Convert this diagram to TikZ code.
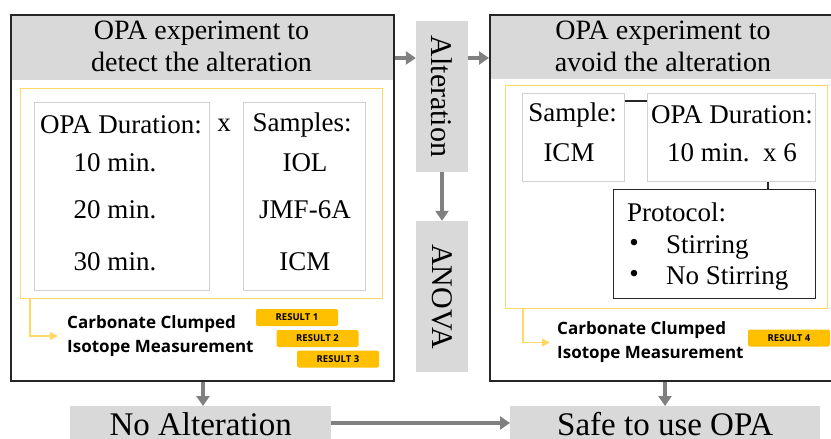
\documentclass[tikz,border=0pt]{standalone}
\usepackage{fontspec}
\usepackage{graphicx}
\setmainfont{Liberation Serif}
\newfontfamily\opensans{Open Sans}
\usetikzlibrary{arrows.meta,positioning}

\definecolor{headgray}{HTML}{D9D9D9}
\definecolor{arrowgray}{HTML}{808080}
\definecolor{lineyellow}{HTML}{FFD966}
\definecolor{resultgold}{HTML}{FFC000}
\definecolor{thingray}{HTML}{D0D0D0}

\tikzset{
  mainbox/.style={draw=black!85, line width=1.5pt, anchor=north west, inner sep=0pt},
  headbar/.style={fill=headgray, anchor=north west, inner sep=0pt},
  yellowbox/.style={draw=lineyellow, line width=1.2pt, anchor=north west, inner sep=0pt},
  listbox/.style={draw=thingray, line width=1pt, anchor=north west, inner sep=0pt},
  protobox/.style={draw=black!85, line width=1pt, anchor=north west, inner sep=0pt},
  sidebar/.style={fill=headgray, inner sep=0pt, minimum width=52pt, minimum height=151pt},
  endbox/.style={fill=headgray, anchor=north west, inner sep=0pt, minimum height=33pt,
    text height=26pt, text depth=0pt, font=\fontsize{33}{36}\selectfont},
  title/.style={align=center, inner sep=0pt, font=\fontsize{28}{32}\selectfont},
  txt/.style={inner sep=0pt, font=\fontsize{27}{32}\selectfont},
  measure/.style={align=left, inner sep=0pt, font=\opensans\bfseries\fontsize{17}{24}\selectfont},
  result/.style={fill=resultgold, rounded corners=2pt, minimum width=82pt, minimum height=17pt,
    inner sep=0pt, font=\opensans\bfseries\fontsize{9.5}{10}\selectfont},
  grayarrow/.style={draw=arrowgray, line width=4pt, -{Triangle[width=13pt,length=10pt]}},
  yellowarrow/.style={draw=lineyellow, line width=1.2pt, -{Triangle[width=8pt,length=8pt]}},
  link/.style={draw=black!85, line width=1.5pt}
}

\begin{document}
\begin{tikzpicture}[x=1pt, y=-1pt]
  \useasboundingbox (0,0) rectangle (831,439);
  \clip (0,0) rectangle (831,439);

  % left experiment
  \node[headbar, minimum width=383pt, minimum height=66pt] (lhead) at (10,14) {};
  \node[mainbox, minimum width=383pt, minimum height=366pt] (left) at (10,14) {};
  \node[title] (ltitle) at (201.5,46) {OPA experiment to\\detect the alteration};
  \node[yellowbox, minimum width=362pt, minimum height=210pt] (lyel) at (20,88) {};
  \node[listbox, minimum width=175pt, minimum height=188pt] (durbox) at (34,102) {};
  \node[listbox, minimum width=122pt, minimum height=188pt] (sampbox) at (243,102) {};
  \node[txt] (durhead) at (121,125) {OPA Duration:};
  \node[txt] (times) at (224,125) {x};
  \foreach \t/\y in {10/163, 20/210, 30/262}
    \node[txt] (min\t) at (115,\y) {\t\ min.};
  \node[txt] (samphead) at (302,125) {Samples:};
  \node[txt] (iol) at (305,163) {IOL};
  \node[txt] (jmf) at (305,210) {JMF-6A};
  \node[txt] (icm) at (305,262) {ICM};
  \node[measure, anchor=west] (lmeas) at (67,336) {Carbonate Clumped\\Isotope Measurement};
  \draw[yellowarrow] (lyel.south -| 30,0) |- ([xshift=-9pt]lmeas.west);
  \foreach \i/\x/\y in {1/297/317.5, 2/317.5/338.5, 3/338/359}
    \node[result] (res\i) at (\x,\y) {RESULT \i};

  % middle
  \node[sidebar] (alter) at (442,96.5) {\fontsize{30}{32}\selectfont\rotatebox[origin=c]{-90}{Alteration}};
  \node[sidebar] (anova) at (442,296.5) {\fontsize{30}{32}\selectfont\rotatebox[origin=c]{-90}{ANOVA}};

  % right experiment
  \node[headbar, minimum width=348pt, minimum height=65pt] (rhead) at (489,14) {};
  \node[mainbox, minimum width=348pt, minimum height=366pt] (right) at (489,14) {};
  \node[title] (rtitle) at (663,46) {OPA experiment to\\avoid the alteration};
  \node[yellowbox, minimum width=322pt, minimum height=223pt] (ryel) at (505,85) {};
  \node[listbox, minimum width=102pt, minimum height=88pt] (sample) at (522,93) {};
  \node[listbox, minimum width=168pt, minimum height=88pt] (duration) at (647,93) {};
  \node[protobox, minimum width=202pt, minimum height=109pt] (proto) at (613,189) {};
  \node[txt] (samplehead) at (572.5,115) {Sample:};
  \node[txt] (icm2) at (569,153) {ICM};
  \node[txt] (durhead2) at (732,115) {OPA Duration:};
  \node[txt] (dur10) at (732,153) {10 min.\ \ x 6};
  \node[txt, anchor=west] (protohead) at (627,212) {Protocol:};
  \node[txt, anchor=west] (stir) at (666,247) {Stirring};
  \node[txt, anchor=west] (nostir) at (666,278) {No Stirring};
  \node[txt] (bul1) at (634,245) {\textbullet};
  \node[txt] (bul2) at (634,276) {\textbullet};
  \draw[link] (sample.east |- 0,101) -- (duration.west |- 0,101);
  \draw[link] (duration.south -| 768,0) -- (proto.north -| 768,0);
  \node[measure, anchor=west] (rmeas) at (557,342.5) {Carbonate Clumped\\Isotope Measurement};
  \draw[yellowarrow] (ryel.south -| 523,0) |- ([xshift=-7pt]rmeas.west);
  \node[result] (res4) at (789,338) {RESULT 4};

  % outcomes
  \node[endbox, minimum width=261pt] (noalt) at (70,406) {No Alteration};
  \node[endbox, minimum width=310pt] (safe) at (510,406) {Safe to use OPA};

  % gray arrows
  \draw[grayarrow] (left.east |- 0,58) -- (alter.west |- 0,58);
  \draw[grayarrow] (alter.east |- 0,58) -- (right.west |- 0,58);
  \draw[grayarrow] (alter.south) -- (anova.north);
  \draw[grayarrow] (left.south -| 203,0) -- (noalt.north -| 203,0);
  \draw[grayarrow] (right.south -| 665,0) -- (safe.north -| 665,0);
  \draw[grayarrow] (noalt.east |- 0,423) -- (safe.west |- 0,423);
\end{tikzpicture}
\end{document}
